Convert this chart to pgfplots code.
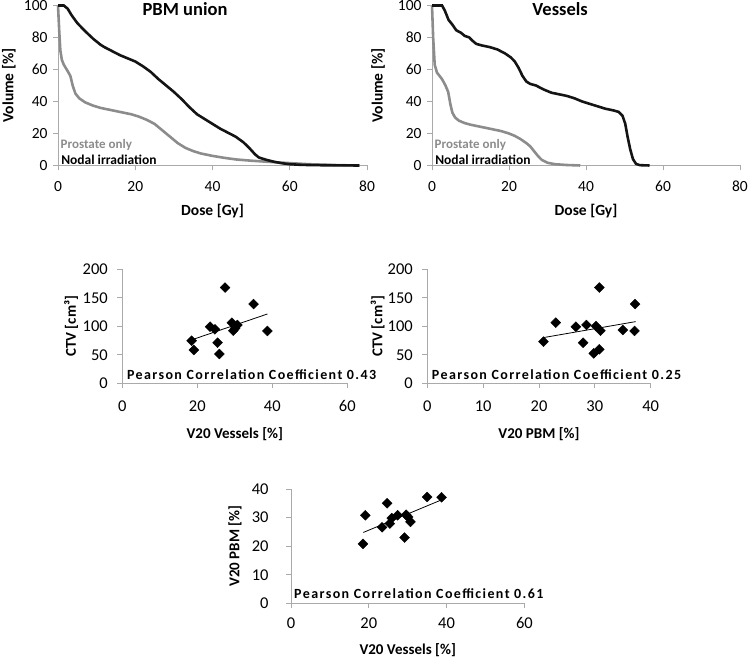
\documentclass[border=0pt]{standalone}
\usepackage{fontspec}
\setmainfont{Carlito}
\usepackage{pgfplots}
\pgfplotsset{compat=1.18}
\definecolor{axgray}{RGB}{170,170,170}
\definecolor{curvegray}{RGB}{140,140,140}
\definecolor{curveblack}{RGB}{20,20,20}
\pgfplotsset{
  exstyle/.style={
    scale only axis,
    axis x line*=bottom, axis y line*=left,
    axis line style={axgray, line width=0.8pt, -},
    tick style={axgray, line width=0.8pt},
    tick align=outside,
    major tick length=5bp,
    /pgf/number format/assume math mode=true,
    clip=false,
    anchor=south west,
  },
  dvh/.style={
    exstyle,
    width=309bp, height=160bp,
    xmin=0, xmax=80, ymin=0, ymax=100,
    xtick={0,20,40,60,80}, ytick={0,20,40,60,80,100},
    ticklabel style={font=\fontsize{15.5bp}{17bp}\selectfont},
    xticklabel style={yshift=-7bp},
    yticklabel style={xshift=-2bp},
    label style={font=\bfseries\fontsize{15.5bp}{18bp}\selectfont},
    xlabel={Dose [Gy]}, ylabel={Volume [\%]},
    xlabel style={at={(axis description cs:0.5,0)}, anchor=center, yshift=-46bp},
  },
  sc/.style={
    exstyle,
    height=114bp,
    ymin=0,
    ticklabel style={font=\fontsize{16.5bp}{19bp}\selectfont},
    xticklabel style={yshift=-9bp},
    yticklabel style={xshift=-6bp},
    label style={font=\bfseries\fontsize{15bp}{18bp}\selectfont},
    xlabel style={at={(axis description cs:0.5,0)}, anchor=center, yshift=-51bp},
  },
}
\newcommand{\pear}[1]{\bfseries\fontsize{14bp}{16bp}\selectfont\addfontfeature{LetterSpace=10}Pearson Correlation Coefficient #1}
\begin{document}
\begin{tikzpicture}
\useasboundingbox (0,0) rectangle (749bp,661bp);

% ---------- Panel 1: PBM union ----------
\begin{axis}[dvh, at={(58bp,495.5bp)},
  ylabel style={at={(axis description cs:-0.159,0.5)}, anchor=center}]
\addplot[curvegray, line width=2.6pt, no marks] coordinates {
(0,100)(0.3,85)(0.6,72)(1,66)(1.5,63)(2.5,59)(3.2,56)(3.8,50)(4.5,45)(5.5,42)(7,39.5)(9,37.5)(11,36)(13,35)(15,34)(17,33)(19,32)(21,30.5)(23,28.5)(25,26)(27,22)(29,18)(31,14)(33,11)(35,9)(37,7.5)(40,6)(43,4.8)(46,3.8)(50,3)(55,2.2)(60,1.5)(65,0.8)(70,0.4)(75,0.1)(78,0)};
\addplot[curveblack, line width=2.6pt, no marks] coordinates {
(0,100)(1.5,100)(2.5,98)(3.5,94)(5,89)(7,84)(9.2,79)(11,75.5)(12,74)(14,71.5)(16,69)(18,67)(20,65)(22,62)(24,58.5)(26,54)(28,50)(30,46)(32,41.5)(34,36.5)(36,32)(38,29)(40,26)(42,23)(44,20.5)(46,18)(48,14.5)(49.5,11)(51,7)(52,5)(54,3.5)(56,2.3)(58,1.4)(60,0.8)(63,0.4)(67,0.2)(72,0.1)(78,0)};
\node[font=\bfseries\fontsize{18.5bp}{21bp}\selectfont] at (rel axis cs:0.411,0.975) {PBM union};
\node[anchor=west, inner sep=0pt, text=curvegray, font=\bfseries\fontsize{13bp}{15bp}\selectfont] at (rel axis cs:0.008,0.129) {Prostate only};
\node[anchor=west, inner sep=0pt, text=black, font=\bfseries\fontsize{13.5bp}{15bp}\selectfont] at (rel axis cs:0.01,0.036) {Nodal irradiation};
\end{axis}

% ---------- Panel 2: Vessels ----------
\begin{axis}[dvh, at={(432bp,495.5bp)}, width=308bp,
  ylabel style={at={(axis description cs:-0.175,0.5)}, anchor=center}]
\addplot[curvegray, line width=2.6pt, no marks] coordinates {
(0,100)(0.3,80)(0.7,63)(1.3,58)(2.6,54)(3.5,50)(4.2,46)(4.8,38)(5.3,33)(6,30)(7,28)(8.5,26.5)(10,25.5)(12,24.5)(14,23.5)(16,22.5)(18,21.5)(20,20)(21.5,18.5)(23,16.5)(24.5,14)(25.5,12)(26.5,9)(27.5,6)(28.5,3.5)(30,1.7)(32,0.8)(35,0.3)(38.5,0)};
\addplot[curveblack, line width=2.6pt, no marks] coordinates {
(0,100)(2.6,100)(3.3,97)(4.3,91)(5.3,88)(6.3,84.5)(7.5,83)(8.5,81)(9.7,80)(10.5,78)(11.5,76)(13,75)(15,74)(17,72.5)(19,70)(20.5,67.5)(21.5,65)(22.5,61)(23.5,56)(24.5,52.5)(25.5,51)(27,50)(29,47.5)(31,45.5)(33,44.5)(35,43.5)(37,42)(39,40)(41,38.5)(43,37)(45,35.5)(47,34.5)(48.5,33.5)(49.5,31)(50.2,26)(50.8,18)(51.5,10)(52.2,4)(53,1)(54,0.2)(56.5,0)};
\node[font=\bfseries\fontsize{18.5bp}{21bp}\selectfont] at (rel axis cs:0.416,0.975) {Vessels};
\node[anchor=west, inner sep=0pt, text=curvegray, font=\bfseries\fontsize{13bp}{15bp}\selectfont] at (rel axis cs:0.008,0.129) {Prostate only};
\node[anchor=west, inner sep=0pt, text=black, font=\bfseries\fontsize{13.5bp}{15bp}\selectfont] at (rel axis cs:0.01,0.036) {Nodal irradiation};
\end{axis}

% ---------- Panel 3: CTV vs V20 Vessels ----------
\begin{axis}[sc, at={(122.3bp,277.7bp)}, width=225bp,
  xmin=0, xmax=60, ymax=200, xtick={0,20,40,60}, ytick={0,50,100,150,200},
  xlabel={V20 Vessels [\%]}, ylabel={CTV [cm³]},
  ylabel style={at={(axis description cs:-0.227,0.5)}, anchor=center}]
\addplot[only marks, mark=square*, mark size=3.5bp, mark options={rotate=45, fill=black, draw=black}] coordinates {
(27.4,168)(35.0,139)(23.4,99.3)(24.7,94.7)(29.2,106.3)(30.1,96.5)(30.7,102.3)(29.6,92.3)(38.7,91.8)(18.5,74.7)(19.1,58.4)(25.4,71.2)(25.9,51.4)};
\addplot[black, line width=0.8pt, no marks] coordinates {(18.4,76)(38.7,121.6)};
\node[anchor=west, inner sep=0pt] at (rel axis cs:0.02,0.079) {\pear{0.43}};
\end{axis}

% ---------- Panel 4: CTV vs V20 PBM ----------
\begin{axis}[sc, at={(427.3bp,277.7bp)}, width=223.4bp,
  xmin=0, xmax=40, ymax=200, xtick={0,10,20,30,40}, ytick={0,50,100,150,200},
  xlabel={V20 PBM [\%]}, ylabel={CTV [cm³]},
  ylabel style={at={(axis description cs:-0.222,0.5)}, anchor=center}]
\addplot[only marks, mark=square*, mark size=3.5bp, mark options={rotate=45, fill=black, draw=black}] coordinates {
(30.8,168)(37.2,139)(26.6,99.3)(35.0,93.5)(23.0,106.3)(30.2,100.5)(28.5,102.3)(31.0,92.3)(37.1,91.8)(20.8,73.0)(30.8,59.6)(27.9,71.2)(29.8,52.6)};
\addplot[black, line width=0.8pt, no marks] coordinates {(20.7,80)(37.3,108.2)};
\node[anchor=west, inner sep=0pt] at (rel axis cs:0.02,0.079) {\pear{0.25}};
\end{axis}

% ---------- Panel 5: V20 PBM vs V20 Vessels ----------
\begin{axis}[sc, at={(291bp,57.7bp)}, width=233.4bp, height=114.3bp,
  xmin=0, xmax=60, ymax=40, xtick={0,20,40,60}, ytick={0,10,20,30,40},
  xlabel={V20 Vessels [\%]}, ylabel={V20 PBM [\%]},
  xticklabel style={yshift=3bp},
  yticklabel style={xshift=-8bp},
  xlabel style={yshift=4bp},
  ylabel style={at={(axis description cs:-0.24,0.5)}, anchor=center}]
\addplot[only marks, mark=square*, mark size=3.5bp, mark options={rotate=45, fill=black, draw=black}] coordinates {
(27.4,30.8)(35.0,37.2)(23.4,26.6)(24.7,35.0)(29.2,23.0)(30.1,30.2)(30.7,28.5)(29.6,31.0)(38.7,37.1)(18.5,20.8)(19.1,30.8)(25.4,27.9)(25.9,29.8)};
\addplot[black, line width=0.8pt, no marks] coordinates {(18.6,24.8)(38.7,36.2)};
\node[anchor=west, inner sep=0pt] at (rel axis cs:0.013,0.0875) {\pear{0.61}};
\end{axis}
\end{tikzpicture}
\end{document}
